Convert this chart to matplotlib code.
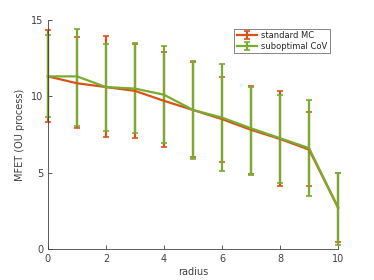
import numpy as np
import matplotlib
matplotlib.use('Agg')
import matplotlib.pyplot as plt

radius = [0, 1, 2, 3, 4, 5, 6, 7, 8, 9, 10]

mc_mean = [11.3, 10.85, 10.6, 10.35, 9.7, 9.1, 8.5, 7.8, 7.2, 6.5, 2.7]
mc_low = [8.3, 7.9, 7.33, 7.29, 6.66, 6.05, 5.68, 4.9, 4.15, 4.15, 0.48]
mc_high = [14.34, 13.88, 13.97, 13.45, 12.88, 12.25, 11.24, 10.7, 10.37, 8.95, 5.0]

cov_mean = [11.3, 11.3, 10.6, 10.5, 10.1, 9.1, 8.6, 7.9, 7.25, 6.6, 2.7]
cov_low = [8.62, 8.07, 7.75, 7.58, 6.96, 5.87, 5.08, 4.87, 4.34, 3.47, 0.26]
cov_high = [14.0, 14.4, 13.45, 13.49, 13.3, 12.3, 12.09, 10.59, 10.1, 9.78, 5.0]

c_mc = '#D95319'
c_cov = '#77AC30'
grey = '#404040'

fig = plt.figure(figsize=(3.74, 2.8), dpi=100)
ax = fig.add_axes([0.128, 0.111, 0.776, 0.818])

x = np.array(radius)
for mean, lo, hi, col, lab in [(mc_mean, mc_low, mc_high, c_mc, 'standard MC'),
                               (cov_mean, cov_low, cov_high, c_cov, 'suboptimal CoV')]:
    mean = np.array(mean)
    err = [mean - np.array(lo), np.array(hi) - mean]
    cont = ax.errorbar(x, mean, yerr=err, color=col, lw=1.6, elinewidth=1.6,
                       capsize=2.5, capthick=1.2, label=lab)
    for art in cont.get_children():
        art.set_clip_on(False)

ax.set_xlim(0, 10)
ax.set_ylim(0, 15)
ax.set_xticks([0, 2, 4, 6, 8, 10])
ax.set_yticks([0, 5, 10, 15])
ax.set_xlabel('radius', fontsize=7, color=grey, labelpad=2)
ax.set_ylabel('MFET (OU process)', fontsize=7, color=grey)
ax.tick_params(direction='in', labelsize=7, colors=grey, length=3, width=0.6)
for s in ['top', 'right']:
    ax.spines[s].set_visible(False)
for s in ['left', 'bottom']:
    ax.spines[s].set_color(grey)
    ax.spines[s].set_linewidth(0.6)

leg = ax.legend(loc='upper right', bbox_to_anchor=(0.985, 0.98), fontsize=6,
                fancybox=False, framealpha=1, borderpad=0.3, handlelength=2.5,
                labelspacing=0.2, handletextpad=0.4)
leg.get_frame().set_edgecolor('#707070')
leg.get_frame().set_linewidth(0.6)
for t in leg.get_texts():
    t.set_color('#262626')

plt.savefig('out.png', dpi=100)
